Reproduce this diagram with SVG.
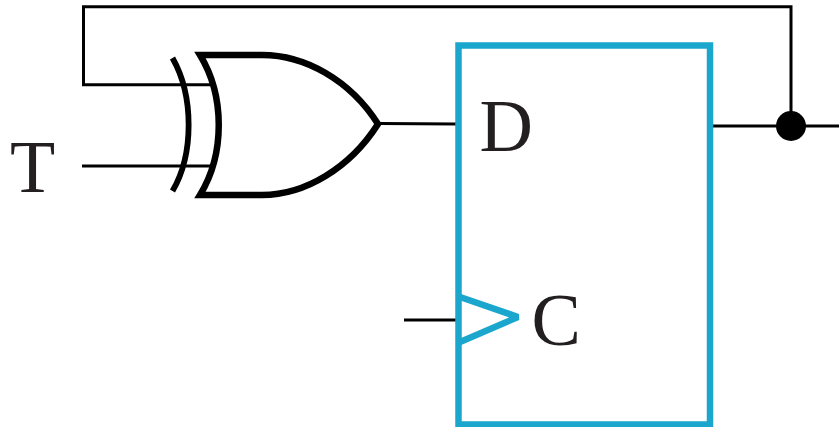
<svg xmlns="http://www.w3.org/2000/svg" width="839" height="427" viewBox="0 0 839 427">
<style>
.wire{fill:none;stroke:#000;stroke-width:3}
.gate{fill:none;stroke:#000;stroke-width:6.5;stroke-miterlimit:10}
.ff{fill:none;stroke:#1ba6cd;stroke-width:6.5;stroke-miterlimit:10}
.lbl{font-family:"Liberation Serif","Times New Roman",serif;font-size:74px;fill:#231f20}
</style>
<rect width="839" height="427" fill="#fff"/>
<g id="connectors">
<path class="wire" d="M210 84.700H83.500V6.700H791V126"/>
<path class="wire" d="M82 166H210"/>
<path class="wire" d="M380 123.500L456 124"/>
<path class="wire" d="M713 126H839"/>
<path class="wire" d="M404 320H456"/>
<circle cx="791" cy="126" r="15" fill="#000"/>
</g>
<g id="xor-gate">
<path class="gate" style="stroke-width:5.800" d="M172.500 58C194 96 194 154 172.500 191"/>
<path class="gate" d="M200 55H262C305 55 350 80 378 124C350 168 305 195 262 195H200C225 154 225 96 200 55Z"/>
</g>
<g id="t-label"><text class="lbl" x="10" y="192">T</text></g>
<g id="flip-flop">
<rect class="ff" x="458.500" y="45.500" width="251.500" height="379"/>
<path class="ff" style="stroke-linejoin:bevel" d="M460 297L518 317L460 342"/>
<text class="lbl" x="479.500" y="151">D</text>
<text class="lbl" x="531.500" y="345">C</text>
</g>
</svg>
